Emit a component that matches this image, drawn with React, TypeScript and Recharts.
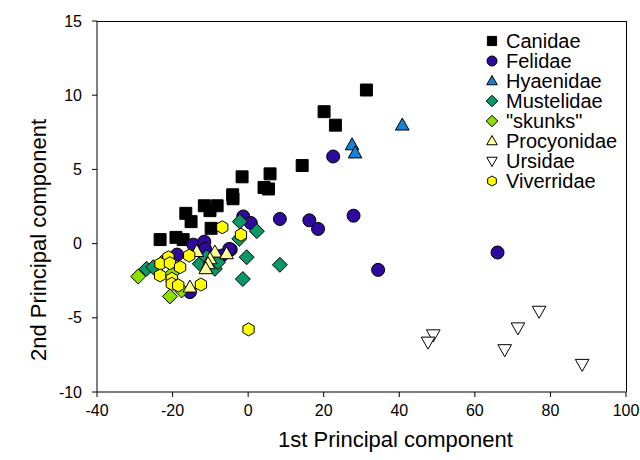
import { ScatterChart, Scatter, XAxis, YAxis, Label } from "recharts";

type Pt = [number, number];

// PCA scores per carnivore family: [1st component, 2nd component]
const canidae: Pt[] = [
  [-23.3, 0.27], [-19.1, 0.42], [-17.2, 0.27], [-16.5, 2.04], [-15.1, 1.48],
  [-11.6, 2.55], [-10.1, 2.22], [-8.2, 2.55], [-9.8, 1.03], [-4.1, 3.29],
  [-4.0, 3.02], [-1.6, 4.5], [5.8, 4.7], [4.2, 3.78], [5.4, 3.68],
  [14.3, 5.26], [20.1, 8.89], [23.1, 7.98], [31.3, 10.35],
];
const felidae: Pt[] = [
  [-1.3, 1.83], [0.7, 1.39], [8.4, 1.66], [16.2, 1.57], [18.5, 0.99],
  [27.9, 1.88], [34.4, -1.77], [22.5, 5.87], [66.0, -0.6], [-4.6, -0.4],
  [-14.5, -0.07], [-11.6, 0.13], [-11.4, -0.36], [-18.8, -0.74], [-5.0, -0.36],
  [-7.0, -0.81], [-15.4, -3.27],
];
const hyaenidae: Pt[] = [[40.8, 7.98], [27.5, 6.65], [28.3, 6.1]];
const mustelidae: Pt[] = [
  [-26.9, -1.7], [-25.1, -1.59], [-22.9, -1.3], [-12.8, -1.36], [-11.0, -0.92],
  [-8.8, -1.7], [-8.0, -1.26], [-2.2, 1.48], [-2.35, 0.32], [2.3, 0.84],
  [-0.4, -0.92], [-1.4, -2.39], [8.4, -1.43],
];
const skunks: Pt[] = [[-29.1, -2.22], [-20.2, -2.04], [-20.7, -3.56], [-17.6, -3.16]];
const procyonidae: Pt[] = [
  [-8.8, -0.58], [-10.1, -1.03], [-10.6, -1.36], [-11.2, -1.7], [-15.4, -2.94],
  [-5.7, -0.69], [-13.6, -0.54],
];
const ursidae: Pt[] = [
  [49.0, -6.14], [47.6, -6.63], [67.9, -7.14], [71.4, -5.67], [77.0, -4.55], [88.4, -8.13],
];
const viverridae: Pt[] = [
  [-6.85, 1.1], [-1.9, 0.6], [-15.6, -0.81], [-21.1, -0.92], [-23.2, -1.36],
  [-20.7, -1.32], [-18.0, -1.59], [-23.3, -2.15], [-20.2, -2.37], [-20.2, -2.71],
  [-18.5, -2.82], [-12.5, -2.76], [0.1, -5.78],
];

const xTicks = [-40, -20, 0, 20, 40, 60, 80, 100];
const yTicks = [-10, -5, 0, 5, 10, 15];

const FONT = "'Liberation Sans', Arial, sans-serif";

// plot box inside the 640x460 chart
const PLOT = { left: 97, top: 21, right: 626, bottom: 392 };

type Kind = "square" | "circle" | "triangle" | "diamond" | "triangleDown" | "hexagon";

const series: { name: string; data: Pt[]; kind: Kind; fill: string }[] = [
  { name: "Canidae", data: canidae, kind: "square", fill: "#000000" },
  { name: "Felidae", data: felidae, kind: "circle", fill: "#2E0A9C" },
  { name: "Hyaenidae", data: hyaenidae, kind: "triangle", fill: "#1283D6" },
  { name: "Mustelidae", data: mustelidae, kind: "diamond", fill: "#0A9966" },
  { name: "\"skunks\"", data: skunks, kind: "diamond", fill: "#8CE000" },
  { name: "Procyonidae", data: procyonidae, kind: "triangle", fill: "#FFFF99" },
  { name: "Ursidae", data: ursidae, kind: "triangleDown", fill: "#FFFFFF" },
  { name: "Viverridae", data: viverridae, kind: "hexagon", fill: "#FFFF00" },
];

function Marker({ kind, cx, cy, s, fill }: { kind: Kind; cx: number; cy: number; s: number; fill: string }) {
  const stroke = { fill, stroke: "#000", strokeWidth: 1 };
  if (kind === "circle") return <circle cx={cx} cy={cy} r={s} {...stroke} />;
  let pts: number[][] = [];
  if (kind === "square") {
    const h = s * 0.92;
    pts = [[-h, -h], [h, -h], [h, h], [-h, h]];
  } else if (kind === "diamond") {
    const h = s * 1.15;
    pts = [[0, -h], [h, 0], [0, h], [-h, 0]];
  } else if (kind === "triangle") {
    pts = [[0, -s * 1.1], [s * 1.05, s * 0.75], [-s * 1.05, s * 0.75]];
  } else if (kind === "triangleDown") {
    pts = [[-s * 1.05, -s * 0.75], [s * 1.05, -s * 0.75], [0, s * 1.1]];
  } else {
    for (let k = 0; k < 6; k++) {
      const a = (Math.PI / 3) * k - Math.PI / 2;
      pts.push([s * Math.cos(a), s * Math.sin(a)]);
    }
  }
  const d = pts.map(([dx, dy], i) => `${i ? "L" : "M"}${cx + dx},${cy + dy}`).join("") + "Z";
  return <path d={d} {...stroke} />;
}

function ChartLegend() {
  return (
    <div style={{ position: "absolute", left: 483, top: 31, fontFamily: FONT, fontSize: 20, color: "#000" }}>
      {series.map((s) => (
        <div key={s.name} style={{ display: "flex", alignItems: "center", height: 20 }}>
          <svg width={18} height={20} style={{ marginRight: 5 }}>
            <Marker kind={s.kind} cx={9} cy={10} s={5} fill={s.fill} />
          </svg>
          <span style={{ lineHeight: "20px" }}>{s.name}</span>
        </div>
      ))}
    </div>
  );
}

export default function App() {
  const tick = { fontSize: 16, fill: "#000", fontFamily: FONT };
  return (
    <div style={{ position: "absolute", left: 0, top: 0, width: 640, height: 460, background: "#fff" }}>
      <ScatterChart
        width={640}
        height={460}
        margin={{ top: PLOT.top, right: 640 - PLOT.right, bottom: 0, left: 0 }}
      >
        <XAxis
          type="number"
          dataKey="x"
          domain={[-40, 100]}
          ticks={xTicks}
          tick={tick}
          tickSize={5}
          tickMargin={8}
          height={460 - PLOT.bottom}
          axisLine={{ stroke: "#000" }}
          tickLine={{ stroke: "#000" }}
        >
          <Label
            value="1st Principal component"
            position="insideBottom"
            offset={13}
            dx={34}
            style={{ fontSize: 22, fill: "#000", fontFamily: FONT }}
          />
        </XAxis>
        <YAxis
          type="number"
          dataKey="y"
          domain={[-10, 15]}
          ticks={yTicks}
          tick={tick}
          tickSize={5}
          tickMargin={10}
          width={PLOT.left}
          axisLine={{ stroke: "#000" }}
          tickLine={{ stroke: "#000" }}
        >
          <Label
            content={() => (
              <text
                x={38}
                y={240}
                transform="rotate(-90 38 240)"
                textAnchor="middle"
                dominantBaseline="central"
                style={{ fontSize: 22, fill: "#000", fontFamily: FONT }}
              >
                2nd Principal component
              </text>
            )}
          />
        </YAxis>
        {series.map((s) => (
          <Scatter
            key={s.name}
            name={s.name}
            data={s.data.map(([x, y]) => ({ x, y }))}
            isAnimationActive={false}
            shape={(p: any) => <Marker kind={s.kind} cx={p.cx} cy={p.cy} s={6.5} fill={s.fill} />}
          />
        ))}
      </ScatterChart>
      {/* top and right edges of the plot frame */}
      <div
        style={{
          position: "absolute",
          left: PLOT.left,
          top: PLOT.top,
          width: PLOT.right - PLOT.left + 1,
          height: PLOT.bottom - PLOT.top,
          borderTop: "1px solid #000",
          borderRight: "1px solid #000",
          boxSizing: "border-box",
          pointerEvents: "none",
        }}
      />
      <ChartLegend />
    </div>
  );
}
